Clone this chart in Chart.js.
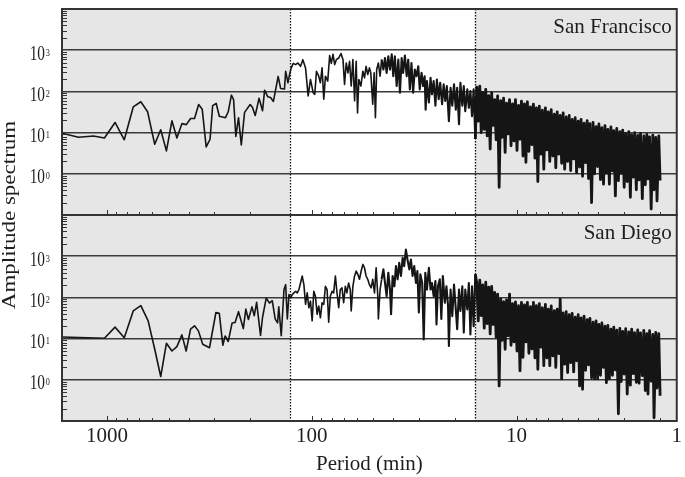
<!DOCTYPE html>
<html>
<head>
<meta charset="utf-8">
<title>Amplitude spectra</title>
<script src="https://cdn.jsdelivr.net/npm/chart.js@4.4.1/dist/chart.umd.min.js"></script>
<style>
  html, body { margin: 0; padding: 0; background: #fff; }
  canvas { display: block; }
</style>
</head>
<body>
<canvas id="spectrumChart" width="685" height="477"></canvas>
<script>
// San Francisco, long and middle periods (min) and amplitudes
const sfPeriod = [1700, 1378, 1165, 1030, 914, 824, 745, 684, 634, 585, 547, 513, 482, 456, 431, 410, 391, 374, 357, 343,
  328, 314, 305, 293, 283, 264, 256, 247, 241, 235, 228, 221, 213, 200, 195, 189, 181, 174, 170, 164, 159, 154, 146, 142, 136,
  134.2, 130.8, 127.9, 126.0, 123.2, 120.0, 116.9, 113.5, 110.6, 107.3, 104.2, 101.5, 98.5, 96.7, 94.9, 92.5, 90.8, 89.1, 87.4, 85.8,
  83.6, 81.8, 80.3, 78.8, 77.3, 75.9, 73.9, 72.0, 70.4, 69.2, 67.9, 66.6, 65.4, 64.2, 63.0, 61.8, 60.7, 59.8, 58.9, 57.6,
  56.3, 55.3, 54.3, 53.3, 52.3, 51.5, 50.4, 49.6, 48.9, 48.2, 47.3, 46.4, 45.6, 44.7, 43.9, 43.1, 42.3, 41.5, 40.7, 40.0,
  39.3, 38.5, 37.8, 37.1, 36.4, 35.8, 35.1, 34.4, 33.8, 33.2, 32.6, 32.0, 31.4, 30.8, 30.2, 29.7, 29.1, 28.6, 28.1, 27.8,
  27.4, 26.8, 26.3, 25.9, 25.4, 24.9, 24.5, 24.0, 23.6, 23.1, 22.7, 22.3, 21.9, 21.4, 21.0, 20.6, 20.2, 19.8, 19.5, 19.1,
  18.8, 18.4, 18.1, 17.8, 17.4, 17.1, 16.8, 16.5, 16.2, 15.9];
const sfAmp = [9.9, 7.7, 8.3, 7.4, 17.6, 6.7, 42, 56, 32, 5.2, 11.7, 3.6, 19.4, 7.4, 16.5, 15.6, 22, 22, 48, 37,
  4.5, 6.9, 45, 51, 25, 23, 32, 81, 63, 8.1, 23, 5.0, 31, 48, 41, 26, 68, 34, 107, 74, 71, 57, 231, 118, 114,
  309, 162, 282, 372, 479, 447, 490, 407, 589, 372, 78, 195, 93, 85, 309, 234, 162, 372, 65, 234,
  178, 741, 479, 794, 447, 589, 646, 832, 589, 148, 490, 282, 537, 135, 589, 59, 537, 30, 195, 135,
  309, 214, 407, 257, 372, 282, 49, 282, 23, 339, 490, 234, 589, 339, 646, 282, 708, 339, 794, 234,
  708, 135, 589, 93, 646, 282, 741, 234, 589, 112, 490, 93, 339, 234, 407, 112, 282, 135, 234, 36,
  178, 54, 214, 85, 178, 45, 195, 65, 162, 49, 148, 59, 135, 19, 123, 45, 148, 36, 123, 16,
  162, 45, 135, 33, 112, 40, 102, 25, 112, 7];

// San Diego, long and middle periods (min) and amplitudes
const sdPeriod = [1700, 1030, 914, 824, 745, 684, 630, 585, 547, 513, 482, 456, 431, 411, 391, 374, 358, 341, 316, 294,
  283, 272, 265, 256, 245, 237, 228, 216, 210, 204, 196, 191, 186, 178, 174, 167, 161, 156, 151, 147, 145, 141,
  136.7, 134.2, 131.7, 129.3, 126.9, 124.6, 122.3, 120.0, 117.8, 115.6, 113.5, 111.4, 109.3, 107.3, 105.3, 103.4, 101.5, 99.6, 97.8, 96.0,
  94.2, 92.5, 90.8, 89.1, 87.4, 85.8, 84.2, 82.7, 81.2, 79.6, 78.2, 76.7, 75.3, 73.9, 72.6, 71.2, 69.9, 68.6, 67.4, 66.1,
  64.9, 64.2, 63.0, 61.8, 60.7, 59.6, 58.5, 57.4, 56.3, 55.3, 54.3, 53.3, 52.3, 51.3, 50.4, 49.4, 48.5, 47.6,
  47.3, 46.4, 45.6, 44.7, 43.9, 43.1, 42.3, 41.5, 41.0, 40.3, 39.5, 38.8, 38.1, 37.4, 36.7, 36.0, 35.4, 34.7, 34.1, 33.4,
  32.8, 32.2, 31.6, 31.0, 30.5, 30.0, 29.5, 28.9, 28.4, 27.9, 27.4, 26.8, 26.3, 25.9, 25.4, 24.9,
  24.6, 24.2, 23.7, 23.3, 22.9, 22.4, 22.0, 21.6, 21.4, 21.0, 20.6, 20.2, 19.8, 19.5, 19.1, 18.8, 18.4, 18.1,
  17.8, 17.4, 17.1, 16.8, 16.5, 16.2, 15.9];
const sdAmp = [11, 10.2, 19, 10.5, 47, 63, 27, 5.5, 1.2, 7.7, 5.0, 6.4, 12.3, 5.0, 17, 20.4, 15.4, 7.3, 6.0, 43,
  41, 6.9, 11.6, 8.5, 24, 24.5, 45, 17.5, 52, 29, 59, 36, 76, 12, 33, 96, 73, 83, 30, 24, 59, 11.7,
  155, 204, 30, 117, 98, 117, 129, 141, 129, 155, 224, 331, 204, 68, 129, 56, 81, 27, 141, 107,
  39, 62, 32, 74, 68, 186, 155, 25, 107, 141, 129, 331, 129, 56, 155, 170, 74, 186, 129, 224,
  155, 47, 186, 331, 437, 363, 275, 437, 631, 525, 331, 275, 204, 170, 275, 129, 525, 107,
  30, 155, 275, 479, 224, 107, 398, 155, 39, 331, 186, 575, 275, 692, 331, 912, 575, 1445, 832, 479,
  832, 331, 575, 224, 437, 43, 363, 224, 9.5, 398, 155, 525, 155, 224, 107, 251,
  22, 186, 275, 30, 331, 74, 186, 62, 6.6, 155, 35, 204, 51, 17, 155, 47, 186, 14,
  155, 51, 224, 12.6, 186, 20, 363];

// short periods (min), shared by both stations, and their amplitudes
const hfPeriod = [15.64, 15.38, 15.12, 14.87, 14.63, 14.38, 14.14, 13.91, 13.68, 13.45,
  13.23, 13.01, 12.79, 12.58, 12.37, 12.16, 11.96, 11.76, 11.57, 11.37,
  11.19, 11.00, 10.82, 10.64, 10.46, 10.29, 10.12, 9.95, 9.78, 9.62,
  9.46, 9.30, 9.15, 9.00, 8.85, 8.70, 8.55, 8.41, 8.27, 8.13,
  8.00, 7.87, 7.74, 7.61, 7.48, 7.36, 7.23, 7.11, 7.00, 6.88,
  6.77, 6.65, 6.54, 6.43, 6.33, 6.22, 6.12, 6.02, 5.92, 5.82,
  5.72, 5.63, 5.53, 5.44, 5.35, 5.26, 5.17, 5.09, 5.00, 4.92,
  4.84, 4.76, 4.68, 4.60, 4.52, 4.45, 4.38, 4.30, 4.23, 4.16,
  4.09, 4.02, 3.96, 3.89, 3.83, 3.76, 3.70, 3.64, 3.58, 3.52,
  3.46, 3.40, 3.35, 3.29, 3.24, 3.18, 3.13, 3.08, 3.03, 2.98,
  2.93, 2.88, 2.83, 2.78, 2.74, 2.69, 2.65, 2.60, 2.56, 2.52,
  2.48, 2.43, 2.39, 2.35, 2.31, 2.28, 2.24, 2.20, 2.16, 2.13,
  2.09, 2.06, 2.02, 1.99];
const sfHfAmp = [126, 19, 135, 10, 95, 12, 112, 8.3, 79, 4,
  93, 15, 63, 6.7, 78, 0.47, 60, 7.7, 69, 3.3,
  52, 9.3, 63, 4.8, 50, 6.3, 63, 3.7, 46, 6.9,
  58, 2.7, 50, 1.9, 56, 3.5, 42, 5.1, 49, 2.4,
  40, 0.65, 44, 3.0, 35, 1.3, 40, 3.8, 32, 2.0,
  36, 2.7, 28, 1.4, 32, 3.0, 26, 1.8, 30, 1.3,
  24, 2.0, 26, 1.2, 21, 2.3, 23, 1.07, 19, 1.46,
  21, 0.87, 17, 1.86, 19.5, 0.77, 16.6, 0.2, 17.8, 1.0,
  14, 1.5, 16.2, 0.72, 13.2, 0.56, 14.8, 1.04, 12, 0.56,
  13.8, 1.18, 11.2, 0.29, 12.6, 0.68, 10.5, 1.02, 11.5, 0.47,
  9.5, 0.65, 10.5, 0.27, 8.9, 0.83, 10, 0.41, 8.5, 0.71,
  9.5, 0.25, 8.3, 0.54, 9.1, 0.75, 7.9, 0.14, 8.7, 0.41,
  7.6, 0.22, 8.3, 0.69];
const sdHfAmp = [224, 27, 263, 36, 200, 18, 234, 23, 178, 13,
  186, 22, 132, 11, 120, 0.71, 91, 9.1, 79, 5.5,
  87, 11.7, 120, 6.9, 71, 8.3, 78, 5.0, 63, 1.66,
  76, 3.5, 66, 8.3, 76, 4.4, 60, 5.6, 76, 3.4,
  63, 1.8, 71, 6.2, 56, 2.2, 68, 3.4, 52, 2.2,
  62, 3.8, 48, 2.0, 52, 4.3, 91, 1.05, 42, 2.4,
  45, 1.5, 38, 2.6, 41, 1.55, 33, 2.9, 38, 0.71,
  32, 0.59, 35, 1.7, 29, 2.3, 31, 1.12, 25, 1.05,
  27, 1.05, 22, 1.29, 24, 2.0, 20, 0.85, 21, 1.05,
  17, 1.29, 19, 1.74, 16, 0.15, 17.8, 0.91, 15, 1.38,
  17.4, 0.45, 14.5, 0.74, 17, 1.41, 14, 0.87, 16.2, 0.83,
  13.8, 1.26, 15.8, 0.55, 13.2, 0.45, 15.5, 0.93, 12.6, 0.12,
  14.1, 0.63, 13.2, 0.41];

const X_MIN = 1.65;
const X_MAX = 1660;
const bandEdges = [16, 128];
const DENSE_BELOW = 45; // periods under this are drawn with a heavier stroke
const xTickValues = [1000, 100, 10, X_MIN];
const xTickLabels = ['1000', '100', '10', '1'];
const yGridValues = [1, 10, 100, 1000];
const yExponents = ['0', '1', '2', '3'];
const panelNames = ['San Francisco', 'San Diego'];

const SERIF = "'Liberation Serif', 'Times New Roman', serif";
const INK = '#1e1e1e';

const toPoints = (periods, amps) => periods.map((p, i) => ({ x: p, y: amps[i] }));

// split a series so the second part starts at the last point of the first one
const splitAt = (pts, period) => {
  const k = pts.findIndex(p => p.x < period);
  return [pts.slice(0, k), pts.slice(k - 1)];
};

const [sfLongPts, sfMidPts] = splitAt(toPoints(sfPeriod, sfAmp), DENSE_BELOW);
const [sdLongPts, sdMidPts] = splitAt(toPoints(sdPeriod, sdAmp), DENSE_BELOW);
const sfHfPts = [sfMidPts[sfMidPts.length - 1]].concat(toPoints(hfPeriod, sfHfAmp));
const sdHfPts = [sdMidPts[sdMidPts.length - 1]].concat(toPoints(hfPeriod, sdHfAmp));

const panelDecor = {
  id: 'panelDecor',
  beforeDraw(chart) {
    const { ctx, chartArea: a, scales } = chart;
    const xLong = scales.x.getPixelForValue(bandEdges[1]);
    const xShort = scales.x.getPixelForValue(bandEdges[0]);
    ctx.save();
    ctx.fillStyle = '#e6e6e6';
    ctx.fillRect(a.left, a.top, xLong - a.left, a.bottom - a.top);
    ctx.fillRect(xShort, a.top, a.right - xShort, a.bottom - a.top);
    ctx.restore();
  },
  afterDraw(chart) {
    const { ctx, chartArea: a, scales } = chart;
    const x = scales.x;
    const panels = [scales.ySF, scales.ySD];
    ctx.save();

    // dotted band limits
    ctx.strokeStyle = '#111';
    ctx.lineWidth = 1.3;
    ctx.setLineDash([1.5, 1.5]);
    bandEdges.forEach(v => {
      const px = Math.round(x.getPixelForValue(v)) + 0.5;
      ctx.beginPath();
      ctx.moveTo(px, a.top);
      ctx.lineTo(px, a.bottom);
      ctx.stroke();
    });
    ctx.setLineDash([]);

    panels.forEach((s, k) => {
      // inward ticks on the period axis
      ctx.strokeStyle = '#333';
      ctx.lineWidth = 1;
      for (let n = 0; n <= 3; n++) {
        for (let m = 1; m <= 9; m++) {
          const v = m * Math.pow(10, n);
          if (v < X_MIN || v > X_MAX) continue;
          const px = Math.round(x.getPixelForValue(v)) + 0.5;
          ctx.beginPath();
          ctx.moveTo(px, s.bottom);
          ctx.lineTo(px, s.bottom - (m === 1 ? 5 : 3));
          ctx.stroke();
        }
      }
      // inward minor ticks on the amplitude axis
      for (let n = -1; n <= 3; n++) {
        for (let m = 2; m <= 9; m++) {
          const py = Math.round(s.getPixelForValue(m * Math.pow(10, n))) + 0.5;
          ctx.beginPath();
          ctx.moveTo(a.left, py);
          ctx.lineTo(a.left + 5, py);
          ctx.stroke();
        }
      }
      // frame
      ctx.strokeStyle = '#333';
      ctx.lineWidth = 2;
      ctx.strokeRect(a.left, s.top, a.right - a.left, s.bottom - s.top);

      // amplitude labels 10^n
      ctx.fillStyle = INK;
      yGridValues.forEach((v, i) => {
        const py = s.getPixelForValue(v);
        ctx.save();
        ctx.translate(45, py + 9.5);
        ctx.scale(0.73, 1);
        ctx.font = '21px ' + SERIF;
        ctx.textAlign = 'right';
        ctx.fillText('10', 0, 0);
        ctx.restore();
        ctx.save();
        ctx.translate(45.7, py + 5.5);
        ctx.scale(0.75, 1);
        ctx.font = '11px ' + SERIF;
        ctx.textAlign = 'left';
        ctx.fillText(yExponents[i], 0, 0);
        ctx.restore();
      });

      // station name
      ctx.font = '21px ' + SERIF;
      ctx.textAlign = 'right';
      ctx.fillText(panelNames[k], a.right - 5, s.top + 24);
    });

    // shared amplitude title
    ctx.translate(14.5, (scales.ySF.top + scales.ySD.bottom) / 2);
    ctx.rotate(-Math.PI / 2);
    ctx.scale(1, 0.78);
    ctx.font = '23px ' + SERIF;
    ctx.textAlign = 'center';
    ctx.fillStyle = INK;
    ctx.fillText('Amplitude spectrum', 0, 0);
    ctx.restore();
  }
};

const lineStyle = (width) => ({
  borderColor: '#151515',
  borderWidth: width,
  borderJoinStyle: 'round',
  pointRadius: 0,
  tension: 0
});

const ampAxis = weight => ({
  type: 'logarithmic',
  position: 'left',
  stack: 'panels',
  weight: weight,
  min: 0.1,
  max: 10000,
  afterBuildTicks: s => { s.ticks = yGridValues.map(v => ({ value: v })); },
  afterFit: s => { s.width = 62; },
  ticks: { display: false },
  grid: { color: '#3a3a3a', lineWidth: 1.5, drawTicks: false },
  border: { display: false }
});

const ctx = document.getElementById('spectrumChart').getContext('2d');
new Chart(ctx, {
  type: 'line',
  data: {
    datasets: [
      { label: 'San Francisco', data: sfLongPts, yAxisID: 'ySF', ...lineStyle(1.6) },
      { label: 'San Francisco mid', data: sfMidPts, yAxisID: 'ySF', ...lineStyle(2.1) },
      { label: 'San Francisco short', data: sfHfPts, yAxisID: 'ySF', ...lineStyle(2.8) },
      { label: 'San Diego', data: sdLongPts, yAxisID: 'ySD', ...lineStyle(1.6) },
      { label: 'San Diego mid', data: sdMidPts, yAxisID: 'ySD', ...lineStyle(2.1) },
      { label: 'San Diego short', data: sdHfPts, yAxisID: 'ySD', ...lineStyle(2.8) }
    ]
  },
  options: {
    responsive: false,
    animation: false,
    devicePixelRatio: 1,
    layout: { padding: { top: 9, right: 5, left: 0, bottom: 0 } },
    plugins: { legend: { display: false }, tooltip: { enabled: false } },
    scales: {
      x: {
        type: 'logarithmic',
        reverse: true,
        min: X_MIN,
        max: X_MAX,
        afterBuildTicks: s => { s.ticks = xTickValues.map(v => ({ value: v })); },
        afterFit: s => { s.height = 56; },
        grid: { display: false, drawTicks: false },
        border: { display: false },
        ticks: {
          autoSkip: false,
          maxRotation: 0,
          padding: 3,
          color: INK,
          font: { family: SERIF, size: 21 },
          callback: (v, i) => xTickLabels[i]
        },
        title: {
          display: true,
          text: 'Period (min)',
          color: INK,
          font: { family: SERIF, size: 21 },
          padding: { top: 0, bottom: 0 }
        }
      },
      ySF: ampAxis(1),
      ySD: ampAxis(0)
    }
  },
  plugins: [panelDecor]
});
</script>
</body>
</html>
